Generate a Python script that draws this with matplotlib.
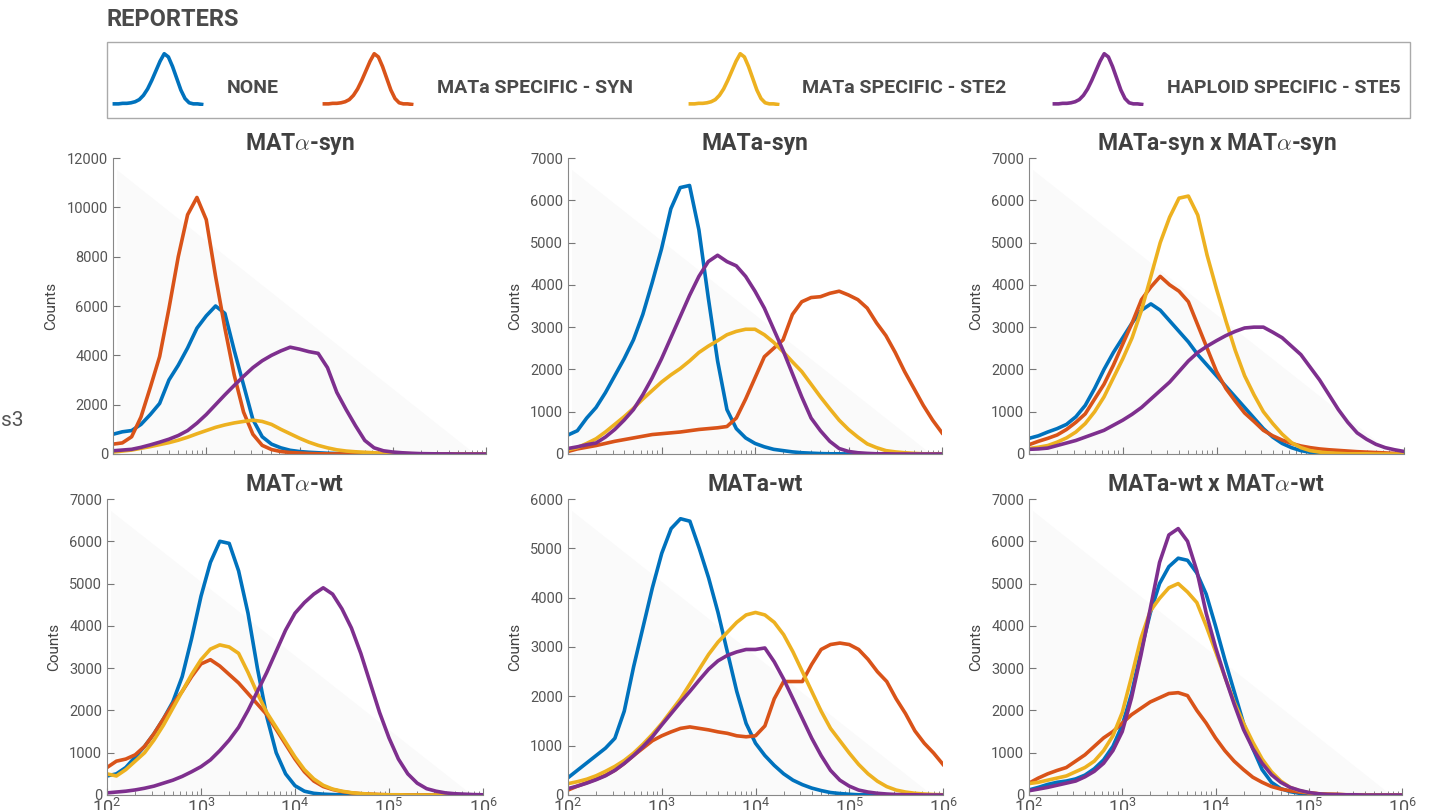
import numpy as np
import matplotlib.pyplot as plt
from matplotlib.patches import Rectangle, Polygon

plt.rcParams['font.family'] = ['Roboto', 'DejaVu Sans']
plt.rcParams['mathtext.fontset'] = 'cm'

# colours of the four reporters
BLUE, ORANGE, YELLOW, PURPLE = '#0072BD', '#D95319', '#EDB120', '#7E2F8E'
COLORS = [BLUE, ORANGE, YELLOW, PURPLE]
REPORTERS = ['NONE', 'MATa SPECIFIC - SYN', 'MATa SPECIFIC - STE2', 'HAPLOID SPECIFIC - STE5']

# fluorescence bins, log10 from 2 to 6 in steps of 0.1
LOG_FL = np.linspace(2, 6, 41)

# --- MATalpha-syn ---
alpha_syn_none = [800, 900, 950, 1200, 1600, 2050, 3000, 3600, 4300, 5100,
                  5600, 6000, 5700, 4200, 2800, 1400, 700, 400, 250, 150,
                  100, 70, 50, 30, 20, 10, 5, 5, 0, 0,
                  0, 0, 0, 0, 0, 0, 0, 0, 0, 0, 0]
alpha_syn_syn = [400, 450, 700, 1500, 2700, 3950, 5900, 8000, 9700, 10400,
                 9500, 7200, 5100, 3200, 1700, 800, 350, 180, 100, 60,
                 40, 20, 10, 5, 5, 0, 0, 0, 0, 0,
                 0, 0, 0, 0, 0, 0, 0, 0, 0, 0, 0]
alpha_syn_ste2 = [80, 120, 160, 230, 300, 380, 460, 560, 680, 820,
                  950, 1080, 1180, 1260, 1320, 1370, 1320, 1200, 1000, 820,
                  640, 480, 350, 250, 170, 120, 90, 70, 50, 35,
                  25, 15, 10, 5, 5, 5, 0, 0, 0, 0, 0]
alpha_syn_ste5 = [130, 160, 190, 270, 370, 480, 600, 750, 950, 1250,
                  1600, 2000, 2400, 2780, 3150, 3500, 3780, 4000, 4180, 4330,
                  4250, 4150, 4080, 3500, 2500, 1800, 1150, 550, 250, 130,
                  80, 50, 30, 15, 10, 5, 5, 0, 0, 0, 0]

# --- MATa-syn ---
a_syn_none = [450, 550, 850, 1100, 1450, 1850, 2250, 2700, 3300, 4050,
              4850, 5800, 6300, 6350, 5300, 3700, 2200, 1050, 600, 380,
              250, 170, 110, 80, 50, 30, 20, 10, 5, 5,
              0, 0, 0, 0, 0, 0, 0, 0, 0, 0, 0]
a_syn_syn = [60, 120, 160, 200, 250, 300, 340, 380, 420, 460,
             480, 500, 520, 550, 580, 600, 620, 650, 850, 1300,
             1800, 2300, 2500, 2700, 3300, 3600, 3700, 3720, 3800, 3850,
             3760, 3650, 3450, 3100, 2800, 2400, 1950, 1550, 1150, 800, 500]
a_syn_ste2 = [100, 150, 250, 360, 520, 700, 880, 1080, 1300, 1500,
              1700, 1870, 2020, 2200, 2400, 2550, 2680, 2820, 2900, 2950,
              2950, 2820, 2640, 2420, 2180, 1950, 1650, 1350, 1070, 800,
              580, 400, 240, 150, 80, 50, 30, 15, 5, 5, 5]
a_syn_ste5 = [130, 170, 220, 260, 400, 580, 800, 1050, 1400, 1800,
              2250, 2750, 3250, 3750, 4200, 4550, 4700, 4550, 4450, 4200,
              3850, 3450, 2950, 2450, 1900, 1350, 850, 550, 300, 130,
              60, 30, 15, 5, 5, 0, 0, 0, 0, 0, 0]

# --- MATa-syn x MATalpha-syn ---
dip_syn_none = [370, 430, 520, 600, 700, 880, 1150, 1550, 2000, 2400,
                2750, 3100, 3400, 3550, 3400, 3150, 2900, 2650, 2350, 2100,
                1850, 1600, 1350, 1100, 850, 600, 400, 250, 150, 80,
                40, 20, 10, 5, 5, 0, 0, 0, 0, 0, 0]
dip_syn_syn = [220, 300, 370, 450, 580, 750, 950, 1300, 1650, 2100,
               2600, 3100, 3650, 3950, 4200, 4000, 3850, 3600, 3050, 2500,
               1950, 1550, 1250, 970, 770, 560, 430, 330, 250, 190,
               150, 120, 100, 85, 70, 55, 45, 35, 25, 15, 10]
dip_syn_ste2 = [130, 160, 200, 280, 380, 520, 720, 1000, 1350, 1800,
                2250, 2750, 3400, 4200, 5000, 5600, 6050, 6100, 5650, 4700,
                3900, 3150, 2450, 1850, 1400, 1000, 720, 470, 270, 150,
                80, 45, 25, 15, 5, 5, 5, 0, 0, 0, 0]
dip_syn_ste5 = [110, 120, 140, 200, 260, 320, 400, 480, 560, 680,
                800, 940, 1100, 1300, 1500, 1700, 1950, 2200, 2400, 2550,
                2680, 2800, 2900, 2980, 3000, 3000, 2880, 2750, 2550, 2350,
                2050, 1750, 1400, 1050, 750, 500, 350, 230, 150, 100, 60]

# --- MATalpha-wt ---
alpha_wt_none = [450, 500, 650, 900, 1150, 1450, 1800, 2200, 2800, 3700,
                 4700, 5500, 6000, 5950, 5300, 4300, 3000, 1850, 1000, 500,
                 220, 90, 40, 20, 10, 5, 5, 0, 0, 0,
                 0, 0, 0, 0, 0, 0, 0, 0, 0, 0, 0]
alpha_wt_syn = [650, 800, 850, 950, 1150, 1450, 1800, 2150, 2450, 2800,
                3100, 3200, 3050, 2850, 2650, 2400, 2150, 1900, 1550, 1200,
                850, 550, 330, 200, 130, 80, 50, 30, 20, 10,
                5, 5, 0, 0, 0, 0, 0, 0, 0, 0, 0]
alpha_wt_ste2 = [500, 450, 600, 800, 1000, 1300, 1650, 2050, 2450, 2850,
                 3200, 3450, 3550, 3500, 3350, 2900, 2400, 1950, 1600, 1250,
                 900, 600, 380, 230, 140, 90, 55, 35, 20, 10,
                 5, 5, 0, 0, 0, 0, 0, 0, 0, 0, 0]
alpha_wt_ste5 = [50, 70, 90, 120, 160, 210, 280, 350, 440, 550,
                 670, 830, 1050, 1300, 1600, 2000, 2450, 2900, 3400, 3900,
                 4300, 4550, 4750, 4900, 4750, 4400, 3950, 3350, 2650, 1950,
                 1350, 850, 500, 280, 150, 90, 50, 30, 20, 10, 5]

# --- MATa-wt ---
a_wt_none = [350, 500, 650, 800, 950, 1150, 1700, 2600, 3400, 4200,
             4900, 5400, 5600, 5550, 5000, 4400, 3700, 2900, 2100, 1450,
             1050, 800, 600, 430, 300, 210, 140, 90, 50, 30,
             15, 5, 5, 0, 0, 0, 0, 0, 0, 0, 0]
a_wt_syn = [100, 180, 250, 320, 400, 500, 640, 800, 950, 1100,
            1200, 1280, 1350, 1380, 1350, 1320, 1280, 1250, 1200, 1180,
            1200, 1400, 1950, 2300, 2300, 2300, 2650, 2950, 3050, 3080,
            3050, 2950, 2750, 2500, 2300, 1950, 1650, 1300, 1050, 850, 620]
a_wt_ste2 = [230, 270, 320, 390, 480, 580, 700, 850, 1030, 1230,
             1450, 1700, 1950, 2250, 2550, 2850, 3100, 3300, 3500, 3650,
             3700, 3650, 3500, 3250, 2900, 2500, 2100, 1700, 1350, 1100,
             850, 620, 430, 280, 170, 100, 60, 35, 20, 10, 5]
a_wt_ste5 = [130, 180, 240, 310, 390, 500, 640, 800, 980, 1180,
             1420, 1650, 1880, 2100, 2330, 2550, 2720, 2830, 2900, 2950,
             2950, 2980, 2700, 2350, 1950, 1550, 1150, 800, 500, 300,
             180, 100, 60, 35, 20, 10, 5, 5, 0, 0, 0]

# --- MATa-wt x MATalpha-wt ---
dip_wt_none = [120, 180, 250, 300, 330, 380, 470, 620, 830, 1150,
               1650, 2400, 3400, 4300, 5000, 5400, 5600, 5550, 5250, 4750,
               4000, 3200, 2450, 1700, 1100, 600, 300, 150, 80, 40,
               20, 10, 5, 5, 0, 0, 0, 0, 0, 0, 0]
dip_wt_syn = [280, 400, 500, 580, 650, 800, 950, 1150, 1350, 1500,
              1700, 1900, 2050, 2200, 2300, 2400, 2420, 2350, 2000, 1700,
              1350, 1050, 800, 600, 420, 300, 200, 140, 100, 70,
              50, 30, 20, 15, 5, 5, 5, 0, 0, 0, 0]
dip_wt_ste2 = [270, 300, 350, 400, 450, 550, 650, 800, 1050, 1400,
               1950, 2800, 3700, 4350, 4650, 4900, 5000, 4800, 4550, 4000,
               3400, 2800, 2200, 1700, 1250, 850, 550, 330, 180, 100,
               55, 30, 15, 10, 5, 5, 5, 0, 0, 0, 0]
dip_wt_ste5 = [100, 140, 180, 230, 280, 330, 430, 560, 750, 1050,
               1500, 2300, 3300, 4400, 5500, 6150, 6300, 6000, 5300, 4300,
               3500, 2800, 2150, 1550, 1100, 750, 480, 300, 180, 110,
               60, 30, 15, 10, 5, 5, 0, 0, 0, 0, 0]

# small peak used for the legend icons
ICON_SHAPE = [4, 4, 5, 5, 6, 8, 12, 20, 32, 48, 66, 84, 98, 92, 74, 52, 30, 14, 6, 4, 4, 3]

TITLES = ['MAT$\\alpha$-syn', 'MATa-syn', 'MATa-syn x MAT$\\alpha$-syn',
          'MAT$\\alpha$-wt', 'MATa-wt', 'MATa-wt x MAT$\\alpha$-wt']
YMAX = [12000, 7000, 7000, 7000, 6000, 7000]
YSTEP = [2000, 1000, 1000, 1000, 1000, 1000]
SERIES = [
    [alpha_syn_none, alpha_syn_syn, alpha_syn_ste2, alpha_syn_ste5],
    [a_syn_none, a_syn_syn, a_syn_ste2, a_syn_ste5],
    [dip_syn_none, dip_syn_syn, dip_syn_ste2, dip_syn_ste5],
    [alpha_wt_none, alpha_wt_syn, alpha_wt_ste2, alpha_wt_ste5],
    [a_wt_none, a_wt_syn, a_wt_ste2, a_wt_ste5],
    [dip_wt_none, dip_wt_syn, dip_wt_ste2, dip_wt_ste5],
]

W, H = 1437, 810
fig = plt.figure(figsize=(W / 100, H / 100), dpi=100)

def px_rect(x0, y0, x1, y1):
    # pixel box (top-left origin) -> figure fraction rect
    return [x0 / W, 1 - y1 / H, (x1 - x0) / W, (y1 - y0) / H]

AX_BOXES = [(113, 158, 486, 454), (568, 158, 942, 454), (1029, 158, 1404, 454),
            (107, 499, 483, 795), (568, 499, 943, 795), (1029, 499, 1402, 795)]

fl = 10 ** LOG_FL
for i in range(6):
    ax = fig.add_axes(px_rect(*AX_BOXES[i]))
    # very faint shaded triangle behind the curves
    ax.add_patch(Polygon([(0.01, 0.96), (0.01, 0.0), (0.97, 0.0)], closed=True,
                         transform=ax.transAxes, color='#fafafa', zorder=0, lw=0))
    for vals, c in zip(SERIES[i], COLORS):
        ax.plot(fl, vals, color=c, lw=2.6, solid_joinstyle='round')
    ax.set_xscale('log')
    ax.set_xlim(1e2, 1e6)
    ax.set_ylim(0, YMAX[i])
    ax.set_yticks(np.arange(0, YMAX[i] + 1, YSTEP[i]))
    ax.set_xticks([1e2, 1e3, 1e4, 1e5, 1e6])
    for s in ['top', 'right']:
        ax.spines[s].set_visible(False)
    for s in ['left', 'bottom']:
        ax.spines[s].set_color('#888888')
    ax.tick_params(which='both', direction='in', color='#777777', labelcolor='#555555')
    ax.tick_params(which='major', length=5, labelsize=10.5)
    ax.tick_params(which='minor', length=3)
    ax.tick_params(axis='x', labelsize=13, pad=2)
    if i < 3:
        ax.tick_params(axis='x', labelbottom=False)
    ax.set_ylabel('Counts', fontsize=11, color='#444444', labelpad=6)
    ax.set_title(TITLES[i], fontsize=16.5, fontweight='bold', color='#404040', pad=6)

# legend box and header
fig.text(107 / W, 1 - 20 / H, 'REPORTERS', fontsize=17, fontweight='bold',
         color='#4a4a4a', va='center', ha='left')
fig.add_artist(Rectangle((107 / W, 1 - 118 / H), (1410 - 107) / W, 76 / H,
                         transform=fig.transFigure, fill=False, ec='#aaaaaa', lw=1))
ICON_X = [110, 320, 686, 1050]
LABEL_X = [227, 437, 802, 1167]
for name, c, ix, lx in zip(REPORTERS, COLORS, ICON_X, LABEL_X):
    iax = fig.add_axes(px_rect(ix, 50, ix + 96, 106))
    iax.plot(ICON_SHAPE, color=c, lw=2.6)
    iax.set_ylim(0, 105)
    iax.axis('off')
    fig.text(lx / W, 1 - 88 / H, name, fontsize=14, fontweight='bold',
             color='#4a4a4a', va='center', ha='left')

# remnant label cut at the left border
fig.text(24 / W, 1 - 420 / H, 's3', fontsize=15, color='#555555', ha='right', va='center')

fig.savefig('out.png', dpi=100)
